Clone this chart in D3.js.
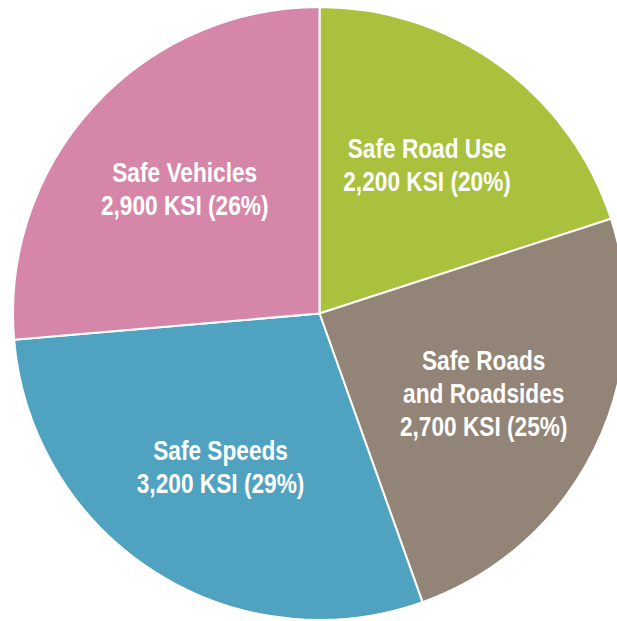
<!DOCTYPE html>
<html>
<head>
<meta charset="utf-8">
<script src="https://cdn.jsdelivr.net/npm/d3@7"></script>
<style>
  body { margin: 0; background: #fff; }
  svg { display: block; }
</style>
</head>
<body>
<svg id="chart"></svg>
<script>
// slices, clockwise from 12 o'clock
const categories = ["Safe Road Use", "Safe Roads\nand Roadsides", "Safe Speeds", "Safe Vehicles"]
const ksi = [2200, 2700, 3200, 2900]
const shares = ["20%", "25%", "29%", "26%"]
const colors = ["#a9c13c", "#928476", "#50a3c0", "#d687a9"]

const width = 617
const height = 621
const cx = 319.5, cy = 313.5
const radius = 306.5

const data = categories.map((c, i) => ({ name: c, value: ksi[i], share: shares[i], color: colors[i] }))

const svg = d3.select("#chart")
    .attr("width", width)
    .attr("height", height)

const group = svg.append("g")
    .attr("transform", `translate(${cx}, ${cy})`)

const pie = d3.pie()
    .sort(null)
    .value(d => d.value)

const arc = d3.arc()
    .innerRadius(0)
    .outerRadius(radius)

const labelArc = d3.arc()
    .innerRadius(183)
    .outerRadius(183)

const arcs = pie(data)

group.selectAll("path")
    .data(arcs)
    .enter()
    .append("path")
        .attr("d", arc)
        .attr("fill", d => d.data.color)
        .attr("stroke", "#fff")
        .attr("stroke-width", 2)
        .attr("stroke-linejoin", "round")

const fmt = d3.format(",")
const lineH = 33

// condensed look: Liberation Sans Bold squeezed horizontally
const labels = group.selectAll("text")
    .data(arcs)
    .enter()
    .append("text")
        .attr("transform", d => `translate(${labelArc.centroid(d)}) scale(0.84, 1)`)
        .attr("text-anchor", "middle")
        .attr("fill", "#fff")
        .attr("font-family", "'Liberation Sans', Arial, sans-serif")
        .attr("font-weight", "700")
        .attr("font-size", "27px")

labels.each(function(d) {
    const lines = d.data.name.split("\n").concat([`${fmt(d.data.value)} KSI (${d.data.share})`])
    const top = -((lines.length - 1) * lineH) / 2 + 9
    d3.select(this).selectAll("tspan")
        .data(lines)
        .enter()
        .append("tspan")
            .attr("x", 0)
            .attr("y", (l, i) => top + i * lineH)
            .text(l => l)
})
</script>
</body>
</html>
